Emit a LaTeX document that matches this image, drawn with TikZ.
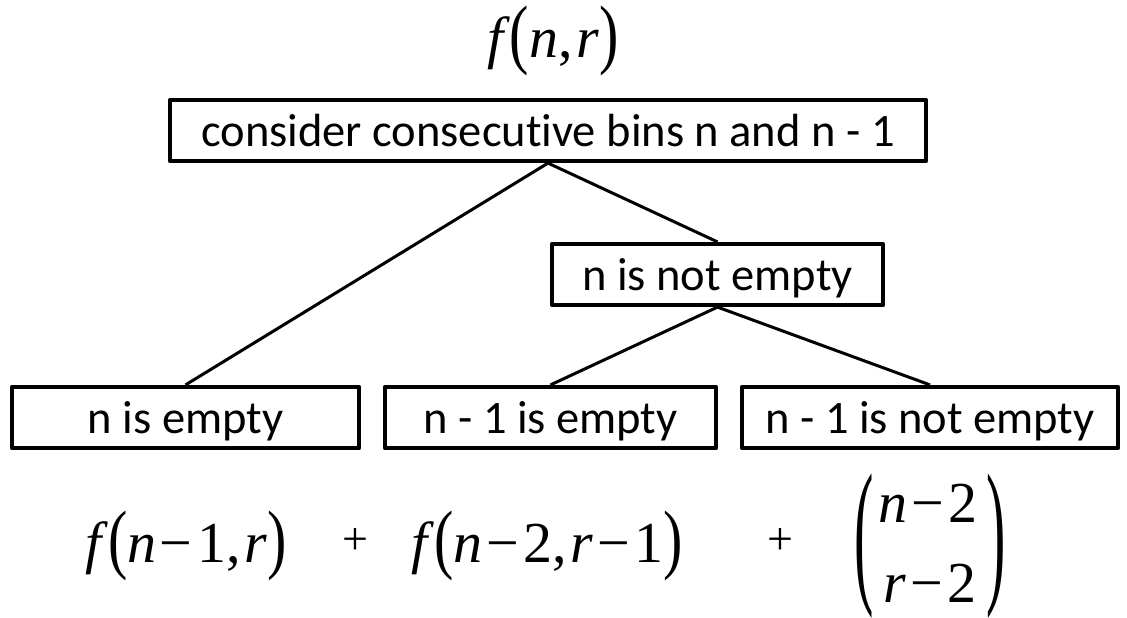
\documentclass[tikz,border=0pt]{standalone}
\usepackage{fontspec}
\setmainfont{Liberation Serif}
\newfontfamily\boxfont[Ligatures=NoCommon]{Carlito}
\usepackage{graphicx}
\newcommand\tallp[1]{\raisebox{-2pt}{\scalebox{1}[1.33]{#1}}}
\newcommand\bigparen[1]{\scalebox{1}[2.75]{#1}}
\newcommand\mvar[1]{\textit{#1}}
\newcommand\mminus{\kern3.5pt−\kern4.5pt}
\tikzset{
  box/.style={draw, line width=4.2pt, line join=round, minimum height=61pt, inner sep=0pt,
    text height=32pt, text depth=0pt, font=\boxfont\fontsize{46.5}{50}\selectfont},
  conn/.style={line width=3pt},
  formula/.style={inner sep=0pt, anchor=base, font=\rmfamily\fontsize{58}{62}\selectfont},
  plus/.style={inner sep=0pt, font=\rmfamily\fontsize{46}{50}\selectfont}
}
\begin{document}
\begin{tikzpicture}[x=1pt,y=-1pt]
\useasboundingbox (0,0) rectangle (1127,618);
\node[formula] (fnr) at (553,58) {\mvar{f}\tallp{(}\mvar{n},\kern4pt\mvar{r}\tallp{)}};
\node[box, minimum width=756pt] (top) at (548,130.5) {consider consecutive bins n and n - 1};
\node[box, minimum width=331pt] (ne) at (717.5,274.5) {n is not empty};
\node[box, minimum width=347pt] (e1) at (185.5,417.5) {n is empty};
\node[box, minimum width=331pt] (e2) at (550.5,417.5) {n - 1 is empty};
\node[box, minimum width=376pt] (e3) at (930,417.5) {n - 1 is not empty};
\draw[conn] (top.south) -- (e1.north);
\draw[conn] (top.south) -- (ne.north);
\draw[conn] (ne.south) -- (e2.north);
\draw[conn] (ne.south) -- (e3.north);
\node[formula] (t1) at (186,562) {\mvar{f}\tallp{(}\mvar{n}\mminus 1,\kern4pt\mvar{r}\tallp{)}};
\node[plus] (p1) at (355,542) {+};
\node[formula] (t2) at (547,562) {\mvar{f}\tallp{(}\mvar{n}\mminus 2,\kern4pt\mvar{r}\mminus 1\tallp{)}};
\node[plus] (p2) at (780,542) {+};
\node[formula] (bn) at (928,522) {\mvar{n}\mminus 2};
\node[formula] (br) at (930,602) {\mvar{r}\mminus 2};
\node[inner sep=0pt, font=\rmfamily\fontsize{58}{62}\selectfont] (lp) at (864,546) {\bigparen{(}};
\node[inner sep=0pt, font=\rmfamily\fontsize{58}{62}\selectfont] (rp) at (996,546) {\bigparen{)}};
\end{tikzpicture}
\end{document}
